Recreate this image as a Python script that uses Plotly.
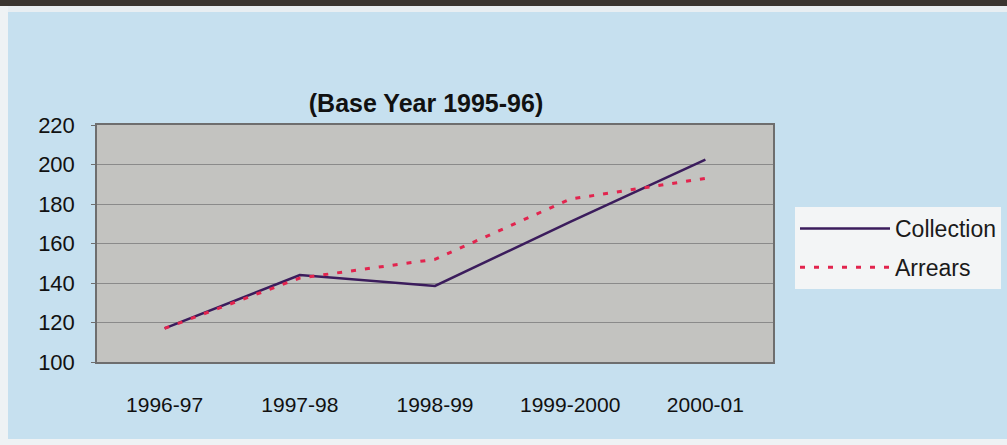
import plotly.graph_objects as go

# Index values (base year 1995-96)
years = ["1996-97", "1997-98", "1998-99", "1999-2000", "2000-01"]
collection = [117, 144, 138.5, 171, 202.5]
arrears = [117, 142.5, 152, 182.5, 193]
y_ticks = [100, 120, 140, 160, 180, 200, 220]

W, H = 1007, 445
L, R, T, B = 97, 234, 125, 83
PW, PH = W - L - R, H - T - B

font_family = "Liberation Sans, Arial, Helvetica, sans-serif"

fig = go.Figure()
fig.add_trace(go.Scatter(
    x=years, y=collection, name="Collection", mode="lines",
    legendgroup="collection",
    line=dict(color="#3b1c5c", width=2.5),
))
fig.add_trace(go.Scatter(
    x=years, y=arrears, name="Arrears", mode="lines",
    legendgroup="arrears",
    line=dict(color="#e2244e", width=3, dash="5px,9px"),
))

fig.update_layout(
    width=W, height=H,
    margin=dict(l=L, r=R, t=T, b=B, autoexpand=False),
    paper_bgcolor="#c6e0ef",
    plot_bgcolor="#c3c3c0",
    title=dict(
        text="<b>(Base Year 1995-96)</b>",
        x=(426 - L) / PW, xref="paper", xanchor="center",
        y=1 - 103 / H, yref="container", yanchor="middle",
        font=dict(family=font_family, size=25, color="#111111"),
    ),
    legend=dict(
        x=(795 - L) / PW, xanchor="left",
        y=(H - B - 207) / PH, yanchor="top",
        bgcolor="#f3f5f6",
        borderwidth=0,
        font=dict(family=font_family, size=23, color="#1a1a1a"),
        itemwidth=90,
        tracegroupgap=6,
    ),
    showlegend=True,
)

fig.update_xaxes(
    type="category",
    range=[-0.5, len(years) - 0.5],
    showgrid=False,
    showline=True, linecolor="#6e6e6e", linewidth=1.5, mirror=True,
    ticks="", ticklabelstandoff=23,
    tickfont=dict(family=font_family, size=21, color="#111111"),
    zeroline=False,
)
fig.update_yaxes(
    range=[100, 220],
    tickvals=y_ticks,
    showgrid=True, gridcolor="#8a8a8a", gridwidth=1,
    showline=True, linecolor="#6e6e6e", linewidth=1.5, mirror=True,
    ticks="outside", ticklen=4, tickcolor="#6e6e6e",
    ticklabelstandoff=12,
    tickfont=dict(family=font_family, size=22, color="#111111"),
    zeroline=False,
)

# scan edges: dark strip along the top, pale margins on left and bottom
x_left, x_right = -L / PW, 1 + R / PW
fig.add_shape(type="rect", xref="paper", yref="paper",
              x0=x_left, x1=x_right,
              y0=1 + (T - 6) / PH, y1=1 + T / PH,
              fillcolor="#3a3530", line_width=0, layer="below")
fig.add_shape(type="rect", xref="paper", yref="paper",
              x0=x_left, x1=x_right,
              y0=1 + (T - 12) / PH, y1=1 + (T - 6) / PH,
              fillcolor="#e8eef2", line_width=0, layer="below")
fig.add_shape(type="rect", xref="paper", yref="paper",
              x0=x_left, x1=-(L - 8) / PW,
              y0=-B / PH, y1=1 + (T - 6) / PH,
              fillcolor="#eef2f4", line_width=0, layer="below")
fig.add_shape(type="rect", xref="paper", yref="paper",
              x0=x_left, x1=x_right,
              y0=-B / PH, y1=-(B - 6) / PH,
              fillcolor="#eef2f4", line_width=0, layer="below")

fig.write_html("out.html")
